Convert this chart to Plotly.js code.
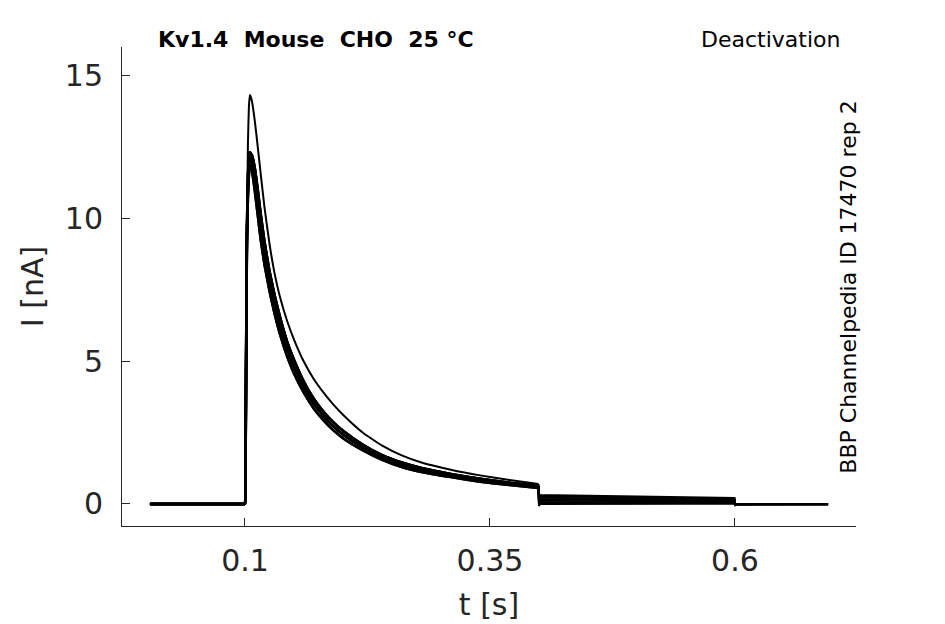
<!DOCTYPE html>
<html>
<head>
<meta charset="utf-8">
<script src="https://cdn.plot.ly/plotly-3.0.1.min.js"></script>
<style>
  body { margin: 0; background: #fff; }
  #myDiv { width: 945px; height: 624px; }
</style>
</head>
<body>
<div id="myDiv"></div>
<script>
// time points of the conditioning step (s)
var stepTime = [0.003, 0.05, 0.0995, 0.1, 0.1005, 0.101, 0.102, 0.103, 0.104, 0.105, 0.107, 0.11, 0.113, 0.116, 0.12, 0.125, 0.13, 0.136, 0.143, 0.15, 0.16, 0.17, 0.18, 0.19, 0.2, 0.22, 0.24, 0.26, 0.28, 0.31, 0.34, 0.37, 0.3995];

// current during the step (nA)
var thinStep = [0, 0, 0, 0, 0.8, 4.0, 9.6, 12.6, 13.9, 14.3, 14.1, 13.4, 12.5, 11.55, 10.35, 9.1, 8.1, 7.2, 6.4, 5.75, 4.98, 4.38, 3.9, 3.48, 3.12, 2.5, 2.04, 1.7, 1.45, 1.2, 1.0, 0.84, 0.70];
var bundleHigh = [0, 0, 0, 0, 0.9, 4.5, 9.7, 11.4, 12.1, 12.3, 12.2, 11.75, 11.0, 10.15, 9.15, 8.15, 7.33, 6.5, 5.68, 5.04, 4.28, 3.69, 3.23, 2.86, 2.56, 2.08, 1.71, 1.45, 1.26, 1.05, 0.88, 0.74, 0.64];
var bundleMid = [0, 0, 0, 0, 0.8, 4.0, 9.4, 11.0, 11.8, 12.1, 11.95, 11.35, 10.55, 9.7, 8.75, 7.8, 7.0, 6.2, 5.42, 4.8, 4.08, 3.52, 3.08, 2.72, 2.43, 1.98, 1.62, 1.37, 1.19, 0.99, 0.83, 0.7, 0.6];
var bundleLow = [0, 0, 0, 0, 0.7, 3.6, 9.1, 10.7, 11.5, 11.85, 11.65, 10.95, 10.1, 9.25, 8.35, 7.45, 6.68, 5.9, 5.16, 4.56, 3.89, 3.35, 2.93, 2.58, 2.3, 1.88, 1.54, 1.29, 1.12, 0.94, 0.78, 0.66, 0.56];

// time points of the tail step and after (s)
var tailTime = [0.4, 0.401, 0.45, 0.5, 0.55, 0.5995, 0.6, 0.601, 0.65, 0.695];

// tail currents (nA)
var tailA = [0.34, 0.31, 0.28, 0.26, 0.23, 0.21, -0.05, -0.02, -0.02, -0.02];
var tailB = [0.28, 0.27, 0.24, 0.22, 0.20, 0.18, -0.05, -0.02, -0.01, -0.01];
var tailC = [0.22, 0.22, 0.20, 0.18, 0.17, 0.15, -0.04, -0.01, -0.01, -0.01];
var tailD = [0.16, 0.17, 0.16, 0.15, 0.13, 0.12, -0.04, -0.01, -0.01, -0.01];
var tailE = [0.10, 0.12, 0.11, 0.10, 0.10, 0.09, -0.03, -0.01, 0.0, 0.0];
var tailF = [0.04, 0.07, 0.07, 0.07, 0.06, 0.06, -0.03, -0.01, 0.0, 0.0];
var tailG = [-0.02, 0.03, 0.03, 0.03, 0.03, 0.03, -0.02, 0.0, 0.0, 0.0];
var tailH = [-0.07, 0.0, 0.01, 0.01, 0.01, 0.01, -0.02, 0.0, 0.0, 0.0];
var tailI = [-0.04, 0.05, 0.05, 0.05, 0.04, 0.04, -0.02, 0.0, 0.0, 0.0];

var sweeps = [
  [thinStep, tailA, 2],
  [bundleHigh, tailB, 2.5],
  [bundleMid, tailC, 2.5],
  [bundleLow, tailD, 2.5],
  [bundleHigh, tailE, 2.5],
  [bundleMid, tailF, 2.5],
  [bundleLow, tailG, 2.5],
  [bundleMid, tailH, 2.5],
  [bundleHigh, tailI, 2.5]
];

var data = [];
for (var i = 0; i < sweeps.length; i++) {
  var step = sweeps[i][0];
  // smooth decay during the step
  data.push({
    x: stepTime,
    y: step,
    type: 'scatter',
    mode: 'lines',
    line: {color: '#000000', width: sweeps[i][2], shape: 'spline', smoothing: 0.4},
    hoverinfo: 'skip'
  });
  // tail, joined to the last step sample
  data.push({
    x: [stepTime[stepTime.length - 1]].concat(tailTime),
    y: [step[step.length - 1]].concat(sweeps[i][1]),
    type: 'scatter',
    mode: 'lines',
    line: {color: '#000000', width: 2},
    hoverinfo: 'skip'
  });
}

var axisFont = {family: 'DejaVu Sans', size: 30, color: '#262626'};

var layout = {
  width: 945,
  height: 624,
  margin: {l: 122, r: 89, t: 47, b: 98},
  paper_bgcolor: '#ffffff',
  plot_bgcolor: '#ffffff',
  showlegend: false,
  xaxis: {
    range: [-0.0255, 0.7235],
    tickvals: [0.1, 0.35, 0.6],
    ticktext: ['0.1', '0.35', '0.6'],
    ticks: 'inside',
    ticklen: 8,
    tickcolor: '#262626',
    showline: true,
    linecolor: '#262626',
    linewidth: 1,
    showgrid: false,
    zeroline: false,
    tickfont: axisFont,
    ticklabelstandoff: 8,
    title: {text: 't [s]', font: axisFont, standoff: 16}
  },
  yaxis: {
    range: [-0.77, 15.98],
    tickvals: [0, 5, 10, 15],
    ticktext: ['0', '5', '10', '15'],
    ticks: 'inside',
    ticklen: 8,
    tickcolor: '#262626',
    showline: true,
    linecolor: '#262626',
    linewidth: 1,
    showgrid: false,
    zeroline: false,
    tickfont: axisFont,
    ticklabelstandoff: 12,
    title: {text: 'I [nA]', font: axisFont, standoff: 12}
  },
  annotations: [
    {
      text: '<b>Kv1.4  Mouse  CHO  25 °C</b>',
      xref: 'paper', yref: 'paper',
      x: 0.047, y: 1.0167,
      xanchor: 'left', yanchor: 'middle',
      showarrow: false,
      font: {family: 'DejaVu Sans', size: 22, color: '#000000'}
    },
    {
      text: 'Deactivation',
      xref: 'paper', yref: 'paper',
      x: 0.883, y: 1.0167,
      xanchor: 'center', yanchor: 'middle',
      showarrow: false,
      font: {family: 'DejaVu Sans', size: 22, color: '#000000'}
    },
    {
      text: 'BBP Channelpedia ID 17470 rep 2',
      xref: 'paper', yref: 'paper',
      x: 0.990, y: 0.499,
      xanchor: 'center', yanchor: 'middle',
      textangle: -90,
      showarrow: false,
      font: {family: 'DejaVu Sans', size: 22, color: '#000000'}
    }
  ]
};

Plotly.newPlot('myDiv', data, layout, {staticPlot: true});
</script>
</body>
</html>
